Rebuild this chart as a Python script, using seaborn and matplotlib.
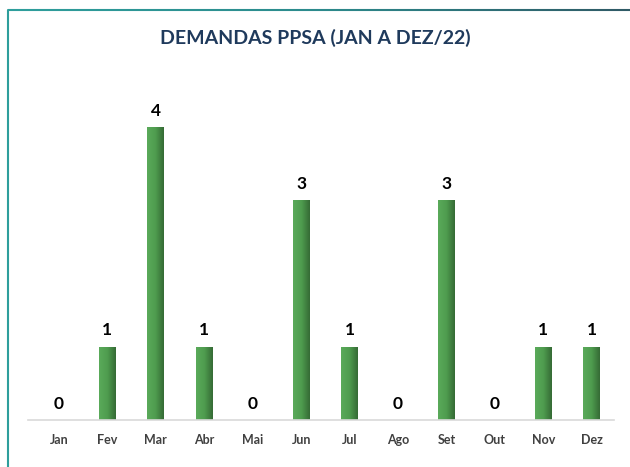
import numpy as np
import pandas as pd
import matplotlib
matplotlib.use('Agg')
import matplotlib.pyplot as plt
import seaborn as sns
from matplotlib.colors import LinearSegmentedColormap
from matplotlib.collections import LineCollection

# Datos
meses = ['Jan', 'Fev', 'Mar', 'Abr', 'Mai', 'Jun', 'Jul', 'Ago', 'Set', 'Out', 'Nov', 'Dez']
demandas = [0, 1, 4, 1, 0, 3, 1, 0, 3, 0, 1, 1]

df = pd.DataFrame({'Mes': meses, 'Demandas': demandas})

sns.set_style('white')
plt.rcParams['font.family'] = ['Lato', 'DejaVu Sans']

fig = plt.figure(figsize=(6.3, 4.67), dpi=100)
ax = fig.add_axes([28 / 630, 47 / 467, 586 / 630, 340 / 467])

ax = sns.barplot(data=df, x='Mes', y='Demandas', color='#4f9a4f', width=0.35, ax=ax)

# Degradado verde en cada barra
verde = LinearSegmentedColormap.from_list('verde', ['#5aaa5a', '#4f9c4f', '#356b35'])
grad = np.linspace(0, 1, 64).reshape(1, -1)
for p in ax.patches:
    h = p.get_height()
    if h <= 0:
        continue
    x0 = p.get_x()
    w = p.get_width()
    im = ax.imshow(grad, cmap=verde, aspect='auto', extent=[x0, x0 + w, 0, h],
                   zorder=p.get_zorder() + 0.1)
    im.set_clip_path(p)
ax.set_xlim(-0.64, 11.46)
ax.set_ylim(0, 4.64)

# Etiquetas de valor
for i, v in enumerate(demandas):
    ax.annotate(str(v), (i, v), xytext=(0, 6), textcoords='offset points',
                ha='center', va='bottom', fontsize=12.5, fontweight='bold', color='black')

ax.set_xlabel('')
ax.set_ylabel('')
ax.set_yticks([])
ax.tick_params(axis='x', length=0, pad=10, labelsize=9, labelcolor='#404040')
for lbl in ax.get_xticklabels():
    lbl.set_fontweight('bold')

for s in ['top', 'right', 'left']:
    ax.spines[s].set_visible(False)
ax.spines['bottom'].set_color('#d9d9d9')
ax.spines['bottom'].set_linewidth(1.2)

fig.text(0.5, 1 - 38 / 467, 'DEMANDAS PPSA (JAN A DEZ/22)', ha='center', va='center',
         fontsize=14, fontweight='bold', color='#1f3a5c')

# Borde del gráfico (degradado en la parte superior)
xs = np.linspace(8 / 630, 1.0, 200)
yt = 1 - 10 / 467
segs = [[(xs[k], yt), (xs[k + 1], yt)] for k in range(len(xs) - 1)]
borde = LinearSegmentedColormap.from_list('borde', ['#2e9e9c', '#2c8a8c', '#2f5a66'])
lc = LineCollection(segs, colors=borde(np.linspace(0, 1, len(segs))), linewidths=1.5,
                    transform=fig.transFigure)
fig.add_artist(lc)
fig.add_artist(plt.Line2D([8 / 630, 8 / 630], [0, yt], transform=fig.transFigure,
                          color='#2e9e9c', linewidth=1.5))

plt.savefig('out.png', dpi=100)
